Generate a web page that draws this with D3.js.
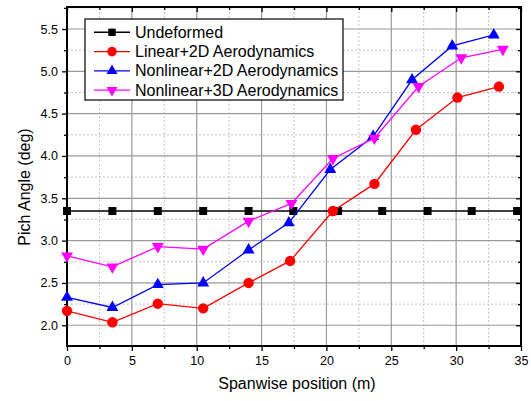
<!DOCTYPE html>
<html>
<head>
<meta charset="utf-8">
<script src="https://cdn.jsdelivr.net/npm/d3@7"></script>
<style>
  body { margin: 0; background: #fff; }
  text { font-family: "Liberation Sans", Arial, sans-serif; fill: #000; }
</style>
</head>
<body>
<div id="canvas"></div>
<script>
/* DATA */
const xUndeformed = [0, 3.5, 7, 10.5, 14, 17.45, 20.9, 24.3, 27.8, 31.2, 34.7];
const yUndeformed = [3.35, 3.35, 3.35, 3.35, 3.35, 3.35, 3.35, 3.35, 3.35, 3.35, 3.35];

const xLinear2D = [0, 3.5, 7, 10.5, 14, 17.2, 20.5, 23.7, 26.9, 30.1, 33.3];
const yLinear2D = [2.17, 2.035, 2.255, 2.2, 2.5, 2.76, 3.35, 3.67, 4.31, 4.69, 4.82];

const xNonlinear2D = [0, 3.5, 7, 10.5, 14, 17.1, 20.3, 23.6, 26.6, 29.7, 32.9];
const yNonlinear2D = [2.33, 2.21, 2.48, 2.5, 2.89, 3.21, 3.84, 4.23, 4.9, 5.3, 5.43];

const xNonlinear3D = [0, 3.5, 7, 10.5, 14, 17.3, 20.5, 23.7, 27.1, 30.4, 33.6];
const yNonlinear3D = [2.82, 2.69, 2.93, 2.9, 3.23, 3.44, 3.97, 4.21, 4.82, 5.16, 5.26];

const seriesNames = ["Undeformed", "Linear+2D Aerodynamics", "Nonlinear+2D Aerodynamics", "Nonlinear+3D Aerodynamics"];

const xTicks = [0, 5, 10, 15, 20, 25, 30, 35];
const yTicks = [2.0, 2.5, 3.0, 3.5, 4.0, 4.5, 5.0, 5.5];

/* CANVAS */
const width = 531;
const height = 401;
const margin = {left: 67, right: 10, top: 7, bottom: 55};

const svg = d3.select("#canvas")
    .append("svg")
    .attr("width", width)
    .attr("height", height);

const x = d3.scaleLinear().domain([0, 35]).range([margin.left, width - margin.right]);
const y = d3.scaleLinear().domain([1.755, 5.76]).range([height - margin.bottom, margin.top]);

const x0 = x.range()[0], x1 = x.range()[1];
const y0 = y.range()[0], y1 = y.range()[1];

/* GRID */
const xMinor = d3.range(2.5, 35, 5);
const yMinor = d3.range(1.75, 5.76, 0.5).filter(d => d > 1.76);

const grid = svg.append("g");
grid.selectAll(".xminor").data(xMinor).join("line")
    .attr("x1", d => x(d)).attr("x2", d => x(d))
    .attr("y1", y0).attr("y2", y1)
    .attr("stroke", "#c4c4c4").attr("stroke-dasharray", "2,2");
grid.selectAll(".yminor").data(yMinor).join("line")
    .attr("x1", x0).attr("x2", x1)
    .attr("y1", d => y(d)).attr("y2", d => y(d))
    .attr("stroke", "#c4c4c4").attr("stroke-dasharray", "2,2");
grid.selectAll(".xmajor").data(xTicks.slice(1, -1)).join("line")
    .attr("x1", d => x(d)).attr("x2", d => x(d))
    .attr("y1", y0).attr("y2", y1)
    .attr("stroke", "#9a9a9a").attr("stroke-width", 1.2);
grid.selectAll(".ymajor").data(yTicks).join("line")
    .attr("x1", x0).attr("x2", x1)
    .attr("y1", d => y(d)).attr("y2", d => y(d))
    .attr("stroke", "#9a9a9a").attr("stroke-width", 1.2);

/* AXES */
const fmt = d3.format(".1f");

svg.append("g")
    .attr("transform", `translate(0,${y0})`)
    .call(d3.axisBottom(x).tickValues(xTicks).tickSize(5).tickPadding(5).tickFormat(d3.format("d")))
    .call(g => g.select(".domain").remove());
svg.append("g")
    .attr("transform", `translate(0,${y0})`)
    .call(d3.axisBottom(x).tickValues(xMinor).tickSize(3).tickFormat(""))
    .call(g => g.select(".domain").remove());

svg.append("g")
    .attr("transform", `translate(${x0},0)`)
    .call(d3.axisLeft(y).tickValues(yTicks).tickSize(5).tickPadding(4).tickFormat(fmt))
    .call(g => g.select(".domain").remove());
svg.append("g")
    .attr("transform", `translate(${x0},0)`)
    .call(d3.axisLeft(y).tickValues(yMinor).tickSize(3).tickFormat(""))
    .call(g => g.select(".domain").remove());

/* top and right: inward ticks */
svg.append("g")
    .attr("transform", `translate(0,${y1})`)
    .call(d3.axisBottom(x).tickValues(xTicks).tickSize(5).tickFormat(""))
    .call(g => g.select(".domain").remove());
svg.append("g")
    .attr("transform", `translate(0,${y1})`)
    .call(d3.axisBottom(x).tickValues(xMinor).tickSize(3).tickFormat(""))
    .call(g => g.select(".domain").remove());
svg.append("g")
    .attr("transform", `translate(${x1},0)`)
    .call(d3.axisLeft(y).tickValues(yTicks).tickSize(5).tickFormat(""))
    .call(g => g.select(".domain").remove());
svg.append("g")
    .attr("transform", `translate(${x1},0)`)
    .call(d3.axisLeft(y).tickValues(yMinor).tickSize(3).tickFormat(""))
    .call(g => g.select(".domain").remove());

svg.selectAll(".tick line").attr("stroke", "#000").attr("stroke-width", 1.3);
svg.selectAll(".tick text").style("font-size", "12.5px").attr("fill", "#000");

svg.append("rect")
    .attr("x", x0).attr("y", y1)
    .attr("width", x1 - x0).attr("height", y0 - y1)
    .attr("fill", "none").attr("stroke", "#000").attr("stroke-width", 2);

/* AXIS TITLES */
svg.append("text")
    .attr("x", (x0 + x1) / 2 + 3)
    .attr("y", 389)
    .attr("text-anchor", "middle")
    .style("font-size", "16px")
    .text("Spanwise position (m)");

svg.append("text")
    .attr("transform", "translate(30,187) rotate(-90)")
    .attr("text-anchor", "middle")
    .style("font-size", "16px")
    .text("Pich Angle (deg)");

/* SERIES */
const series = [
    {xs: xUndeformed, ys: yUndeformed, color: "#000000", symbol: d3.symbolSquare, size: 64, rot: 0, lw: 1.6},
    {xs: xLinear2D, ys: yLinear2D, color: "#ff0000", symbol: d3.symbolCircle, size: 85, rot: 0, lw: 1.3},
    {xs: xNonlinear2D, ys: yNonlinear2D, color: "#0000ff", symbol: d3.symbolTriangle, size: 62, rot: 0, lw: 1.3},
    {xs: xNonlinear3D, ys: yNonlinear3D, color: "#ff00ff", symbol: d3.symbolTriangle, size: 62, rot: 180, lw: 1.3}
];

const line = d3.line().x(d => x(d[0])).y(d => y(d[1]));

series.forEach(s => {
    const pts = s.xs.map((v, i) => [v, s.ys[i]]);
    svg.append("path")
        .datum(pts)
        .attr("d", line)
        .attr("fill", "none")
        .attr("stroke", s.color)
        .attr("stroke-width", s.lw);
    svg.selectAll(null).data(pts).join("path")
        .attr("d", d3.symbol().type(s.symbol).size(s.size))
        .attr("transform", d => `translate(${x(d[0])},${y(d[1])}) rotate(${s.rot})`)
        .attr("fill", s.color);
});

/* LEGEND */
const legend = svg.append("g");
legend.append("rect")
    .attr("x", 85).attr("y", 19)
    .attr("width", 258).attr("height", 81)
    .attr("fill", "#fff").attr("stroke", "#000").attr("stroke-width", 1.2);

series.forEach((s, i) => {
    const ly = 32.3 + i * 19.3;
    legend.append("line")
        .attr("x1", 94).attr("x2", 130)
        .attr("y1", ly).attr("y2", ly)
        .attr("stroke", s.color).attr("stroke-width", s.lw);
    legend.append("path")
        .attr("d", d3.symbol().type(s.symbol).size(s.size * 0.85))
        .attr("transform", `translate(112,${ly}) rotate(${s.rot})`)
        .attr("fill", s.color);
    legend.append("text")
        .attr("x", 135)
        .attr("y", ly + 5.5)
        .style("font-size", "16px")
        .text(seriesNames[i]);
});
</script>
</body>
</html>
